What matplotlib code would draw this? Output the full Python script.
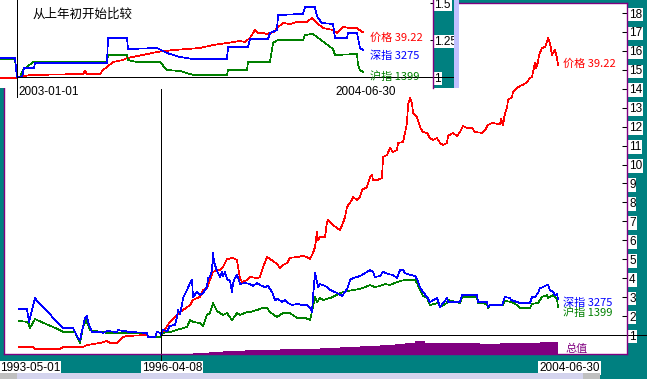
import matplotlib
matplotlib.use("Agg")
import matplotlib.pyplot as plt
from matplotlib.patches import Rectangle

TEAL = "#008080"
PURPLE = "#800080"
RED = "#ff0000"
BLUE = "#0000ff"
GREEN = "#008000"
CJK = ["Noto Sans CJK SC", "DejaVu Sans"]
NUM = "Liberation Sans"
LW = 0.5  # renders as a one-pixel aliased line

# main chart: x = bar index (0 = 1993-05-01, 142 = 1996-04-08, 539 = 2004-06-30)
# values are relative to 1996-04-08 (= 1)
price = [(0, 0.37), (14, 0.37), (16, 0.26), (41, 0.26), (44, 0.37), (64, 0.37), (68, 0.47),
         (81, 0.58), (88, 0.68), (91, 0.58), (98, 0.58), (101, 0.74), (104, 0.89), (108, 0.95),
         (128, 1.0), (129, 0.89), (141, 0.89), (142, 1.0), (151, 1.69), (161, 2.21), (171, 2.58),
         (174, 2.85), (178, 2.95), (181, 3.01), (184, 3.38), (188, 3.48), (191, 3.90), (194, 4.33),
         (198, 4.43), (201, 4.43), (204, 4.59), (208, 5.01), (214, 5.07), (218, 4.96), (219, 4.59),
         (221, 4.01), (223, 3.80), (228, 3.90), (231, 4.06), (238, 4.01), (241, 4.06), (243, 4.43),
         (248, 5.12), (254, 4.91), (258, 4.75), (261, 4.54), (264, 4.70), (268, 4.80), (271, 5.07),
         (278, 5.12), (284, 5.17), (288, 5.12), (291, 5.01), (294, 5.33), (296, 5.65), (298, 6.44),
         (299, 6.02), (301, 6.17), (306, 6.17), (308, 6.97), (309, 7.07), (314, 6.81), (321, 6.54),
         (324, 6.91), (326, 7.23), (328, 7.76), (333, 8.13), (334, 8.29), (338, 8.13), (341, 8.29),
         (343, 8.66), (348, 8.81), (351, 9.34), (353, 9.45), (354, 9.18), (358, 9.18), (363, 9.29),
         (364, 10.40), (368, 10.50), (371, 10.87), (374, 10.66), (378, 10.77), (379, 11.14),
         (384, 11.19), (386, 11.67), (388, 12.19), (389, 13.14), (391, 13.51), (393, 13.25),
         (394, 12.72), (398, 12.51), (401, 11.98), (404, 11.72), (408, 11.67), (411, 11.40),
         (414, 11.30), (418, 11.40), (421, 11.14), (424, 11.03), (428, 11.14), (429, 11.51),
         (434, 11.67), (438, 11.51), (441, 11.72), (444, 12.03), (448, 11.93), (453, 11.93),
         (456, 11.72), (463, 11.67), (466, 11.82), (469, 12.09), (473, 12.19), (481, 12.14),
         (482, 12.40), (484, 12.09), (486, 12.72), (488, 12.99), (489, 13.41), (493, 13.57),
         (494, 13.83), (498, 14.04), (501, 14.15), (504, 14.20), (508, 14.36), (511, 14.57),
         (513, 14.62), (514, 14.89), (516, 15.36), (517, 15.10), (519, 15.41), (520, 15.78),
         (523, 16.15), (526, 16.21), (528, 16.47), (529, 16.68), (531, 16.42), (533, 15.78),
         (534, 15.89), (536, 16.05), (538, 15.62), (539, 15.26)]

shenzhen = [(0, 2.37), (8, 2.37), (10, 1.69), (16, 2.95), (18, 2.80), (44, 1.37), (54, 1.37),
            (59, 0.84), (61, 0.74), (66, 1.90), (68, 2.00), (69, 1.69), (73, 1.16), (81, 1.16),
            (84, 1.11), (88, 1.21), (98, 1.16), (99, 1.26), (111, 1.16), (128, 1.11), (129, 0.89),
            (136, 0.89), (138, 1.16), (141, 1.11), (142, 1.00), (144, 1.26), (148, 1.21), (151, 1.48),
            (156, 1.53), (158, 1.95), (159, 2.32), (161, 2.11), (163, 2.58), (164, 2.95), (168, 3.38),
            (171, 3.75), (173, 3.90), (174, 3.01), (178, 3.27), (181, 3.11), (184, 3.22), (188, 3.53),
            (189, 4.01), (191, 4.06), (193, 4.43), (194, 5.33), (195, 4.85), (198, 4.38), (201, 4.06),
            (203, 4.33), (204, 4.12), (206, 4.33), (208, 3.96), (211, 3.85), (213, 3.27), (214, 3.75),
            (216, 4.01), (218, 4.17), (219, 4.06), (221, 3.69), (226, 3.75), (231, 3.69), (234, 3.59),
            (238, 3.75), (241, 3.64), (246, 3.53), (249, 3.59), (253, 3.27), (256, 2.85), (259, 2.90),
            (263, 2.74), (266, 2.85), (269, 2.69), (273, 2.58), (278, 2.64), (284, 2.58), (288, 2.58),
            (291, 2.43), (293, 2.21), (294, 3.01), (296, 4.27), (298, 3.80), (299, 3.53), (301, 3.69),
            (304, 3.64), (308, 3.53), (311, 3.38), (318, 3.22), (323, 3.06), (326, 3.27), (329, 3.53),
            (331, 3.90), (334, 4.01), (338, 4.06), (343, 4.17), (346, 4.27), (351, 4.43), (354, 4.33),
            (356, 4.06), (361, 4.12), (364, 4.33), (369, 4.22), (374, 4.17), (378, 4.01), (381, 4.43),
            (384, 4.43), (386, 4.27), (391, 4.17), (396, 4.12), (398, 3.96), (401, 3.53), (404, 3.27),
            (408, 3.01), (411, 2.74), (418, 2.95), (421, 2.48), (428, 2.95), (429, 2.74), (441, 2.74),
            (443, 3.11), (458, 3.11), (459, 2.74), (468, 2.74), (469, 2.48), (471, 2.58), (483, 2.58),
            (486, 3.01), (491, 2.95), (492, 2.85), (501, 2.69), (511, 2.69), (513, 3.01), (516, 3.01),
            (519, 3.22), (521, 3.48), (524, 3.53), (526, 3.59), (529, 3.64), (531, 3.38), (534, 3.27),
            (536, 3.11), (538, 3.17), (539, 2.90)]

shanghai = [(0, 1.74), (9, 1.69), (11, 1.37), (16, 1.84), (18, 1.79), (41, 1.26), (44, 1.16),
            (56, 1.16), (58, 0.89), (61, 0.58), (64, 1.42), (67, 1.79), (69, 1.53), (71, 1.26),
            (88, 1.11), (128, 1.11), (129, 0.89), (141, 0.89), (142, 1.00), (144, 1.11), (151, 1.16),
            (161, 1.32), (168, 1.42), (171, 1.79), (174, 1.69), (181, 1.63), (184, 1.48), (188, 2.06),
            (191, 2.16), (194, 2.69), (198, 2.27), (204, 2.06), (208, 2.16), (213, 1.79), (218, 2.16),
            (221, 2.06), (228, 2.21), (231, 2.21), (238, 2.32), (244, 2.43), (248, 2.43), (251, 2.21),
            (258, 1.95), (264, 2.16), (271, 2.16), (278, 1.90), (286, 1.90), (291, 1.79), (294, 2.48),
            (296, 3.01), (298, 2.74), (301, 2.95), (304, 2.85), (311, 2.95), (314, 3.01), (321, 3.22),
            (334, 3.38), (341, 3.43), (346, 3.53), (351, 3.64), (356, 3.53), (361, 3.59), (366, 3.69),
            (371, 3.64), (376, 3.75), (381, 3.85), (386, 3.90), (396, 3.90), (398, 3.75), (401, 3.38),
            (404, 3.06), (408, 2.95), (411, 2.58), (419, 2.69), (421, 2.48), (428, 2.69), (429, 2.85),
            (441, 2.69), (443, 3.01), (458, 3.01), (459, 2.69), (468, 2.64), (469, 2.43), (471, 2.58),
            (484, 2.58), (486, 2.80), (493, 2.74), (498, 2.58), (501, 2.43), (511, 2.43), (513, 2.64),
            (519, 2.69), (521, 2.85), (523, 3.01), (528, 3.11), (529, 2.95), (531, 3.01), (534, 3.11),
            (538, 2.90), (539, 2.48)]

# 总值 (total value) bars, step levels
volume = [(174, 0.05), (190, 0.10), (204, 0.16), (226, 0.19), (241, 0.21), (261, 0.24),
          (281, 0.27), (301, 0.34), (321, 0.37), (341, 0.42), (361, 0.48), (376, 0.53),
          (386, 0.60), (396, 0.66), (406, 0.60), (421, 0.58), (441, 0.58), (461, 0.55),
          (481, 0.58), (501, 0.60), (521, 0.63), (539, 0.60)]

main_ticks = list(range(1, 19))
main_dates = [(0, "1993-05-01"), (142, "1996-04-08"), (539, "2004-06-30")]

# inset: x = bar index (0 = 2003-01-01, 346 = 2004-06-30), values relative to 2003-01-01
inset_price = [(-17, 0.993), (0, 0.993), (1, 1.0), (6, 1.007), (16, 1.014), (66, 1.02),
               (68, 1.041), (70, 1.02), (83, 1.02), (86, 1.047), (90, 1.068), (96, 1.101),
               (106, 1.115), (110, 1.128), (126, 1.149), (140, 1.169), (156, 1.182), (170, 1.189),
               (183, 1.196), (196, 1.216), (210, 1.23), (223, 1.243), (228, 1.237), (233, 1.264),
               (238, 1.318), (241, 1.297), (246, 1.297), (250, 1.291), (253, 1.297), (257, 1.304),
               (260, 1.331), (266, 1.365), (273, 1.358), (280, 1.372), (290, 1.372), (295, 1.399),
               (300, 1.365), (306, 1.331), (316, 1.318), (320, 1.297), (326, 1.338), (333, 1.331),
               (340, 1.331), (345, 1.304), (346, 1.304)]
inset_sz = [(-17, 1.128), (-2, 1.128), (-1, 1.061), (0, 1.0), (5, 1.0), (7, 1.061), (17, 1.061),
            (18, 1.095), (90, 1.095), (91, 1.264), (110, 1.264), (111, 1.189), (140, 1.196),
            (150, 1.162), (163, 1.135), (176, 1.122), (210, 1.122), (211, 1.203), (231, 1.203),
            (233, 1.257), (251, 1.257), (253, 1.297), (260, 1.318), (261, 1.419), (286, 1.426),
            (288, 1.473), (298, 1.473), (299, 1.432), (301, 1.399), (305, 1.365), (316, 1.358),
            (318, 1.264), (330, 1.264), (331, 1.297), (340, 1.297), (341, 1.264), (343, 1.196),
            (346, 1.182)]
inset_sh = [(-17, 1.122), (-2, 1.122), (-1, 1.061), (0, 1.0), (3, 1.0), (6, 1.047), (16, 1.101),
            (90, 1.101), (91, 1.149), (110, 1.149), (111, 1.115), (120, 1.101), (143, 1.101),
            (150, 1.047), (163, 1.041), (176, 1.014), (210, 1.014), (211, 1.047), (230, 1.047),
            (231, 1.101), (253, 1.101), (256, 1.23), (261, 1.25), (286, 1.25), (288, 1.284),
            (296, 1.291), (300, 1.27), (316, 1.189), (318, 1.149), (340, 1.155), (341, 1.081),
            (343, 1.047), (346, 1.034)]
inset_ticks = [1, 1.25, 1.5]
inset_tick_labels = ["1", "1.25", "1.5"]

W, H = 647, 379


def px_box(left, top, right, bottom):
    return [left / W, 1 - bottom / H, (right - left) / W, (bottom - top) / H]


fig = plt.figure(figsize=(W / 100, H / 100), dpi=100, facecolor=TEAL)

# ---------------- main chart ----------------
ax = fig.add_axes(px_box(4, 3, 627, 354), facecolor="white", zorder=0)
ax.set_xlim(-15, 608)
ax.set_ylim(-0.003, 18.53)
for s in ax.spines.values():
    s.set_color(PURPLE)
    s.set_linewidth(1.0)
ax.set_xticks([])
ax.yaxis.tick_right()
ax.set_yticks(main_ticks, [str(t) for t in main_ticks])
ax.tick_params(axis="y", direction="in", length=3.6, width=0.75, pad=1.5,
               labelsize=8.5, colors="black")
for lbl in ax.get_yticklabels():
    lbl.set_fontfamily(NUM)
    lbl.set_bbox(dict(facecolor="white", edgecolor="none", pad=0.6))

vx, vy = zip(*volume)
ax.fill_between(vx, 0, vy, step="post", color=PURPLE, lw=0, zorder=1)
ax.text(546, 0.26, "总值", color=PURPLE, fontsize=8, family=CJK, va="center", ha="left")

for data, col in [(price, RED), (shanghai, GREEN), (shenzhen, BLUE)]:
    xs, ys = zip(*data)
    ax.plot(xs, ys, color=col, lw=LW, antialiased=False, zorder=2)

ax.axvline(142, ymin=-0.0712, ymax=0.755, color="black", lw=LW, clip_on=False,
           antialiased=False, zorder=2)
ax.axhline(1, xmin=(161 - 4) / 623, xmax=(647 - 4) / 623, color="black", lw=LW,
           clip_on=False, antialiased=False, zorder=2)

ax.text(544, 15.31, "价格 39.22", color=RED, fontsize=8, family=CJK, va="center", ha="left")
ax.text(544, 2.69, "深指 3275", color=BLUE, fontsize=8, family=CJK, va="center", ha="left")
ax.text(544, 2.16, "沪指 1399", color=GREEN, fontsize=8, family=CJK, va="center", ha="left")

for idx, lab in main_dates:
    ax.annotate(lab, xy=(idx, 0), xycoords=ax.get_xaxis_transform(),
                xytext=(-13.7, -10), textcoords="offset points", ha="left", va="center",
                fontsize=8.5, family=NUM, color="black", annotation_clip=False, zorder=4,
                bbox=dict(facecolor="white", edgecolor="none", pad=0.8))

# teal strip beside the inset (between main and inset layers)
fig.patches.append(Rectangle((433 / W, 1 - 88 / H), 21 / W, 88 / H, transform=fig.transFigure,
                             facecolor=TEAL, edgecolor="none", zorder=1))

# ---------------- inset (from start of last year) ----------------
ai = fig.add_axes(px_box(0, 0, 433, 88), facecolor="white", zorder=2)
ai.set_xlim(-17, 416)
ai.set_ylim(0.9257, 1.5203)
for k, s in ai.spines.items():
    s.set_visible(k == "right")
ai.spines["right"].set_color(PURPLE)
ai.spines["right"].set_linewidth(1.0)
ai.set_xticks([])
ai.yaxis.tick_right()
ai.set_yticks(inset_ticks, inset_tick_labels)
ai.tick_params(axis="y", direction="in", length=2.2, width=0.75, pad=1.0,
               labelsize=8.5, colors="black")
for lbl in ai.get_yticklabels():
    lbl.set_fontfamily(NUM)
    lbl.set_bbox(dict(facecolor="white", edgecolor="none", pad=0.6))

for data, col in [(inset_price, RED), (inset_sh, GREEN), (inset_sz, BLUE)]:
    xs, ys = zip(*data)
    ai.plot(xs, ys, color=col, lw=LW, antialiased=False, zorder=2)

ai.axvline(0, ymin=-0.102, ymax=1, color="black", lw=LW, clip_on=False, antialiased=False)
ai.axhline(1, xmin=17 / 433, xmax=454 / 433, color="black", lw=LW, clip_on=False,
           antialiased=False, zorder=2)

ai.text(0.074, 0.84, "从上年初开始比较", transform=ai.transAxes, fontsize=9, family=CJK,
        color="black", va="center", ha="left")
ai.text(353, 1.264, "价格 39.22", color=RED, fontsize=8, family=CJK, va="center", ha="left")
ai.text(353, 1.142, "深指 3275", color=BLUE, fontsize=8, family=CJK, va="center", ha="left")
ai.text(353, 1.0, "沪指 1399", color=GREEN, fontsize=8, family=CJK, va="center", ha="left")

ai.annotate("2003-01-01", xy=(0, 0), xycoords=ai.get_xaxis_transform(), xytext=(0.7, -3),
            textcoords="offset points", ha="left", va="center", fontsize=8.5, family=NUM,
            annotation_clip=False)
ai.annotate("2004-06-30", xy=(346, 0), xycoords=ai.get_xaxis_transform(), xytext=(-20, -3),
            textcoords="offset points", ha="left", va="center", fontsize=8.5, family=NUM,
            annotation_clip=False)

# ---------------- window decorations ----------------
fig.patches.append(Rectangle((454 / W, 1 - 88 / H), 5 / W, 88 / H, transform=fig.transFigure,
                             facecolor="#c0c0ff", edgecolor="none", zorder=5))
fig.patches.append(Rectangle((0, 0), 600 / W, 6 / H, transform=fig.transFigure,
                             facecolor="#d4d4ee", edgecolor="none", zorder=5))
fig.patches.append(Rectangle((0, 0), 17 / W, 6 / H, transform=fig.transFigure,
                             facecolor="#c0c0c0", edgecolor="none", zorder=5))
fig.patches.append(Rectangle((583 / W, 0), 17 / W, 6 / H, transform=fig.transFigure,
                             facecolor="#c0c0c0", edgecolor="none", zorder=5))

fig.savefig("out.png", dpi=100, facecolor=TEAL)
